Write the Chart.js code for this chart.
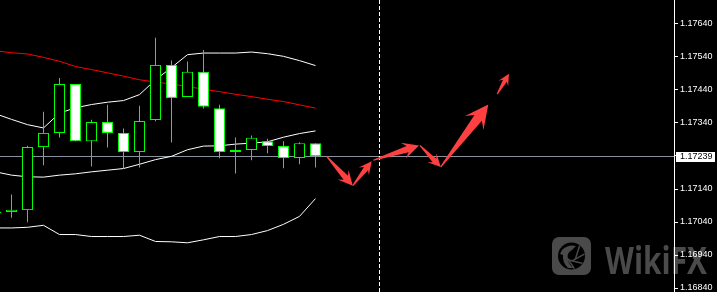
<!DOCTYPE html>
<html><head><meta charset="utf-8">
<script src="https://cdn.jsdelivr.net/npm/chart.js@4/dist/chart.umd.min.js"></script>
<style>html,body{margin:0;padding:0;background:#000;overflow:hidden}canvas{display:block}</style>
</head><body>
<canvas id="c" width="717" height="292"></canvas>
<script>
// ---- data ----
const candleIndex = [-1,0,1,2,3,4,5,6,7,8,9,10,11,12,13,14,15,16,17,18,19];
const opens  = [1.17067,1.17070,1.17076,1.17267,1.17310,1.17458,1.17285,1.17343,1.17310,1.17252,1.17349,1.17516,1.17419,1.17495,1.17385,1.17258,1.17258,1.17285,1.17270,1.17234,1.17279];
const highs  = [1.17073,1.17123,1.17271,1.17374,1.17476,1.17458,1.17350,1.17395,1.17323,1.17392,1.17598,1.17529,1.17526,1.17561,1.17395,1.17296,1.17302,1.17292,1.17285,1.17282,1.17279];
const lows   = [1.17064,1.17053,1.17039,1.17212,1.17296,1.17285,1.17208,1.17266,1.17202,1.17205,1.17345,1.17281,1.17419,1.17384,1.17233,1.17187,1.17227,1.17248,1.17203,1.17215,1.17205];
const closes = [1.17071,1.17077,1.17267,1.17310,1.17458,1.17285,1.17343,1.17310,1.17252,1.17346,1.17516,1.17416,1.17495,1.17389,1.17252,1.17252,1.17295,1.17270,1.17234,1.17279,1.17239];
const bbUpper  = [1.17368,1.17351,1.17335,1.17325,1.17370,1.17386,1.17396,1.17403,1.17408,1.17426,1.17471,1.17508,1.17547,1.17552,1.17552,1.17552,1.17555,1.17550,1.17542,1.17529,1.17514];
const bbMiddle = [1.17192,1.17182,1.17177,1.17176,1.17182,1.17186,1.17192,1.17197,1.17202,1.17215,1.17229,1.17239,1.17259,1.17270,1.17271,1.17276,1.17279,1.17283,1.17297,1.17308,1.17316];
const bbLower  = [1.17022,1.17022,1.17024,1.17030,1.17002,1.17002,1.16996,1.16996,1.16996,1.17000,1.16981,1.16980,1.16977,1.16986,1.16996,1.16996,1.17002,1.17014,1.17033,1.17057,1.17111];
const maRed    = [1.17559,1.17553,1.17549,1.17539,1.17527,1.17511,1.17502,1.17492,1.17482,1.17471,1.17464,1.17458,1.17451,1.17442,1.17435,1.17427,1.17420,1.17412,1.17405,1.17395,1.17385];
const tickValues = [1.16840,1.16940,1.17040,1.17140,1.17240,1.17340,1.17440,1.17540,1.17640];
const currentPrice = 1.17239;
const dashedLineIndex = 23;
const arrowStartX = [19.70, 21.33, 22.61, 25.53, 26.83, 30.36];
const arrowStartY = [1.17239, 1.17150, 1.17227, 1.17272, 1.17207, 1.17428];
const arrowEndX   = [21.33, 22.51, 25.47, 26.83, 29.80, 31.09];
const arrowEndY   = [1.17150, 1.17224, 1.17272, 1.17207, 1.17396, 1.17489];
const watermarkText = 'WikiFX';

// ---- view range ----
const X_MIN = -0.71875, X_MAX = 41.40625;
const Y_MIN = 1.168279, Y_MAX = 1.177127;

const pts = arr => arr.map((v,k)=>({x:candleIndex[k], y:v}));
const lineDs = (arr, color) => ({type:'line', data:pts(arr), borderColor:color, borderWidth:1, pointRadius:0, tension:0, fill:false, order:3});

function drawArrow(c, x1, y1, x2, y2){
  const dx=x2-x1, dy=y2-y1, len=Math.hypot(dx,dy);
  const ux=dx/len, uy=dy/len, nx=-uy, ny=ux;
  const head=0.22*len+6, half=head*0.5, neck=head*0.72, sw=Math.max(1.5, head*0.2), s0=0.6;
  const bx=x2-ux*head, by=y2-uy*head;
  const kx=x2-ux*neck, ky=y2-uy*neck;
  c.beginPath();
  c.moveTo(x1+nx*s0, y1+ny*s0);
  c.lineTo(kx+nx*sw, ky+ny*sw);
  c.lineTo(bx+nx*half, by+ny*half);
  c.lineTo(x2, y2);
  c.lineTo(bx-nx*half, by-ny*half);
  c.lineTo(kx-nx*sw, ky-ny*sw);
  c.lineTo(x1-nx*s0, y1-ny*s0);
  c.closePath();
  c.fill();
}

function drawWatermark(c){
  const g = '#4a4a4a';
  c.fillStyle = g;
  c.beginPath();
  c.roundRect(552, 237, 39, 38, 7);
  c.fill();
  c.fillStyle = '#000';
  c.beginPath(); c.arc(571.5, 256, 13.5, 0, Math.PI*2); c.fill();
  // eagle head
  c.fillStyle = g;
  c.beginPath();
  c.moveTo(562, 250); c.quadraticCurveTo(568, 244, 576, 246);
  c.lineTo(572, 250); c.quadraticCurveTo(566, 253, 568, 260);
  c.quadraticCurveTo(569, 265, 574, 268); c.lineTo(568, 268);
  c.quadraticCurveTo(562, 262, 563, 255); c.lineTo(560, 254);
  c.closePath(); c.fill();
  // aperture blades
  c.strokeStyle = g; c.lineWidth = 1.5;
  for (let k=0;k<4;k++){
    const a = -0.9 + k*0.75;
    c.beginPath();
    c.moveTo(571.5+13*Math.cos(a), 256+13*Math.sin(a));
    c.lineTo(571.5+5*Math.cos(a+1.6), 256+5*Math.sin(a+1.6));
    c.stroke();
  }
  c.fillStyle = g;
  c.font = 'bold 38px "Open Sans", "Liberation Sans", sans-serif';
  c.textBaseline = 'alphabetic';
  c.textAlign = 'left';
  c.fillText(watermarkText, 605, 274, 102);
}

const decor = {
  id:'decor',
  beforeDraw(chart){
    const c = chart.ctx; c.save();
    c.fillStyle = '#000'; c.fillRect(0,0,chart.width,chart.height);
    drawWatermark(c);
    c.restore();
  },
  beforeDatasetsDraw(chart){
    const c = chart.ctx, xs = chart.scales.x, ys = chart.scales.y, a = chart.chartArea;
    c.save();
    const py = Math.floor(ys.getPixelForValue(currentPrice)) + 0.5;
    c.strokeStyle = '#8a94a0'; c.lineWidth = 1;
    c.beginPath(); c.moveTo(a.left, py); c.lineTo(a.right, py); c.stroke();
    const dx = Math.floor(xs.getPixelForValue(dashedLineIndex)) + 0.5;
    c.strokeStyle = '#ffffff'; c.setLineDash([4,2]);
    c.beginPath(); c.moveTo(dx, a.top); c.lineTo(dx, a.bottom); c.stroke();
    c.restore();
  },
  afterDatasetsDraw(chart){
    const c = chart.ctx, xs = chart.scales.x, ys = chart.scales.y;
    c.save();
    c.fillStyle = '#ff4040';
    for (let k=0;k<arrowStartX.length;k++){
      drawArrow(c, xs.getPixelForValue(arrowStartX[k]), ys.getPixelForValue(arrowStartY[k]),
                   xs.getPixelForValue(arrowEndX[k]), ys.getPixelForValue(arrowEndY[k]));
    }
    c.restore();
  },
  afterDraw(chart){
    const c = chart.ctx, ys = chart.scales.y;
    c.save();
    const py = Math.floor(ys.getPixelForValue(currentPrice));
    c.fillStyle = '#ffffff';
    c.fillRect(676, py-4, 39, 10);
    c.fillStyle = '#000000';
    c.font = '9px "Liberation Sans", Arial, sans-serif';
    c.textBaseline = 'middle'; c.textAlign = 'left';
    c.fillText(currentPrice.toFixed(5), 680, py+1);
    c.restore();
  }
};

new Chart(document.getElementById('c').getContext('2d'), {
  type:'bar',
  data:{ datasets:[
    { label:'body', data: candleIndex.map((x,k)=>({x, y:[opens[k], closes[k]]})),
      backgroundColor: ctx => (closes[ctx.dataIndex] >= opens[ctx.dataIndex]) ? '#000000' : '#ffffff',
      borderColor:'#00ff00', borderWidth:1, borderSkipped:false, barThickness:11, grouped:false, inflateAmount:0, order:1 },
    { label:'wick', data: candleIndex.map((x,k)=>({x, y:[lows[k], highs[k]]})),
      backgroundColor:'#00ff00', borderWidth:0, barThickness:1, grouped:false, inflateAmount:0, order:2 },
    lineDs(maRed, '#ff0000'),
    lineDs(bbUpper, '#ffffff'),
    lineDs(bbMiddle, '#ffffff'),
    lineDs(bbLower, '#ffffff')
  ]},
  options:{
    responsive:false, maintainAspectRatio:false, animation:false, devicePixelRatio:1,
    events:[],
    layout:{padding:0},
    plugins:{legend:{display:false}, tooltip:{enabled:false}},
    scales:{
      x:{type:'linear', min:X_MIN, max:X_MAX, display:false, offset:false, grid:{offset:false}},
      y:{type:'linear', position:'right', min:Y_MIN, max:Y_MAX,
        afterBuildTicks: s => { s.ticks = tickValues.map(v=>({value:v})); },
        afterFit: s => { s.width = 43; s.paddingTop = 0; s.paddingBottom = 0; },
        ticks:{color:'#ffffff', font:{family:'"Liberation Sans", Arial, sans-serif', size:9}, padding:2,
               autoSkip:false, maxRotation:0, callback: v => Number(v).toFixed(5)},
        grid:{drawOnChartArea:false, drawTicks:true, tickLength:4, color:'#ffffff'},
        border:{display:true, color:'#ffffff', width:1}
      }
    }
  },
  plugins:[decor]
});
</script>
</body></html>
